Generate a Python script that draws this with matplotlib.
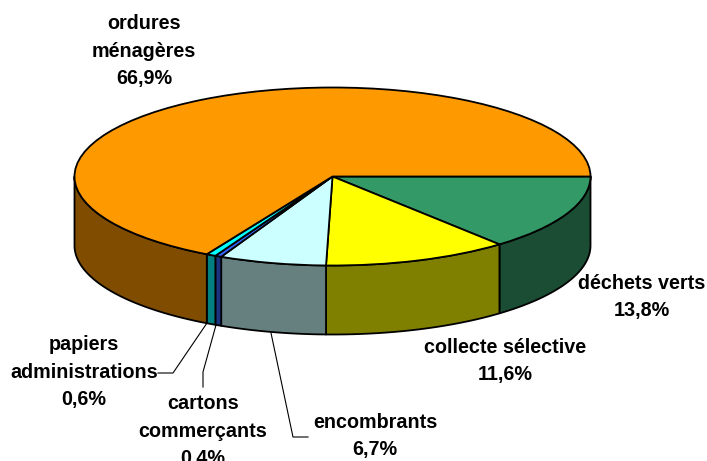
import matplotlib
matplotlib.use('Agg')
import matplotlib.pyplot as plt
import numpy as np
from matplotlib.patches import Polygon

plt.rcParams['font.family'] = ['Liberation Sans', 'DejaVu Sans']

# slices, clockwise from the right hand side
names = ['déchets verts', 'collecte sélective', 'encombrants', 'cartons\ncommerçants',
         'papiers\nadministrations', 'ordures\nménagères']
percents = [13.8, 11.6, 6.7, 0.4, 0.6, 66.9]
top_colors = ['#339966', '#FFFF00', '#CCFFFF', '#3366FF', '#00FFFF', '#FF9900']
side_colors = ['#1A4D33', '#808000', '#668080', '#1A3380', '#008080', '#804D00']
percent_labels = ['13,8%', '11,6%', '6,7%', '0,4%', '0,6%', '66,9%']

W, H = 707, 461
cx, cy = 332.5, 176.5   # pixel centre of the top ellipse
rx, ry = 258, 89
depth = 69


def ux(px):
    return (px - cx) / rx


def uy(py):
    return (cy - py) / ry


fig = plt.figure(figsize=(W / 100, H / 100), dpi=100)
ax = fig.add_axes([0, 0, 1, 1])

# side wall first, only the front half shows
d = depth / ry
edges = np.cumsum([0] + percents) * 3.6
for i in range(len(percents)):
    a0, a1 = edges[i], min(edges[i + 1], 180)
    t = np.radians(np.linspace(a0, a1, 80))
    x = np.cos(t)
    y = -np.sin(t)
    pts = np.r_[np.c_[x, y], np.c_[x[::-1], y[::-1] - d]]
    ax.add_patch(Polygon(pts, closed=True, fc=side_colors[i], ec='black', lw=1.3, zorder=1,
                         joinstyle='round'))

wedges, _ = ax.pie(percents, colors=top_colors, startangle=0, counterclock=False, radius=1,
                   center=(0, 0), wedgeprops={'edgecolor': 'black', 'linewidth': 1.3})
for w in wedges:
    w.set_zorder(2)

ax.set_aspect('auto')
ax.set_xlim(ux(0), ux(W))
ax.set_ylim(uy(H), uy(0))
ax.axis('off')

# leader lines (pixels)
leaders = [
    ([158, 173, 207], [373, 373, 323]),
    ([203, 203, 216], [387, 372, 325]),
    ([271, 293, 308], [333, 437, 437]),
]
for lx, ly in leaders:
    ax.plot([ux(v) for v in lx], [uy(v) for v in ly], color='black', lw=0.8, zorder=3)

# label centres in pixels
label_x = [642, 505, 375, 203, 84, 144]
label_y = [297, 361, 436, 431, 372, 51]
for n, p, lx, ly in zip(names, percent_labels, label_x, label_y):
    ax.text(ux(lx), uy(ly), n + '\n' + p, ha='center', va='center', fontsize=14.2,
            fontweight='bold', linespacing=1.56, color='black', zorder=4, clip_on=False)

fig.savefig('out.png', dpi=100)
